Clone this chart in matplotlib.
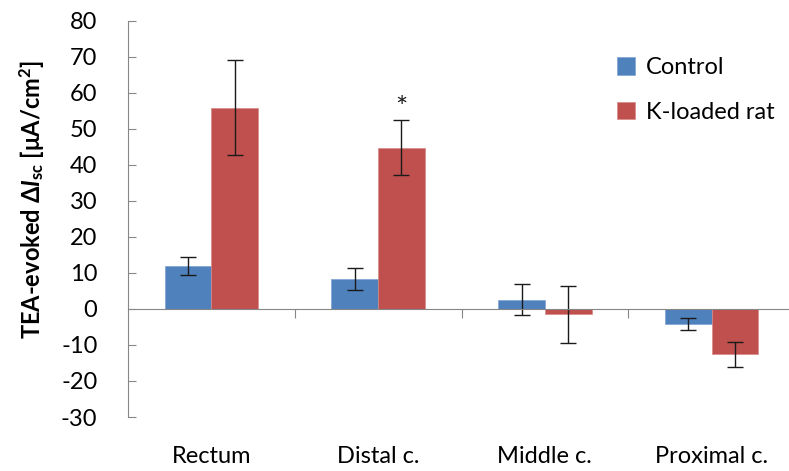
import matplotlib
matplotlib.use('Agg')
import matplotlib.pyplot as plt
import matplotlib.transforms as mtransforms
import numpy as np

matplotlib.rcParams['font.family'] = ['Lato', 'DejaVu Sans']
matplotlib.rcParams['mathtext.fontset'] = 'custom'
matplotlib.rcParams['mathtext.rm'] = 'Lato'
matplotlib.rcParams['mathtext.bf'] = 'Lato:bold'
matplotlib.rcParams['mathtext.it'] = 'Lato:italic'
matplotlib.rcParams['mathtext.bfit'] = 'Lato:bold:italic'

categories = ['Rectum', 'Distal c.', 'Middle c.', 'Proximal c.']
control = [12.0, 8.3, 2.5, -4.2]
control_err = [2.5, 3.1, 4.3, 1.6]
kloaded = [55.9, 44.8, -1.5, -12.6]
kloaded_err = [13.2, 7.5, 7.9, 3.5]
series_names = ['Control', 'K-loaded rat']
colors = ['#4F81BD', '#C0504D']
yticks = list(range(-30, 81, 10))

fs = 17

fig = plt.figure(figsize=(7.89, 4.71), dpi=100)
ax = fig.add_axes([128/789, 54/471, 667/789, 396.3/471])

x = np.arange(len(categories))
w = 0.28
ekw = dict(ecolor='#1a1a1a', elinewidth=1.0, capsize=6, capthick=1.0)
b1 = ax.bar(x - w/2, control, w, yerr=control_err, color=colors[0],
            edgecolor='#7FA3D4', linewidth=0.5, error_kw=ekw, label=series_names[0])
b2 = ax.bar(x + w/2, kloaded, w, yerr=kloaded_err, color=colors[1],
            edgecolor='#D88A88', linewidth=0.5, error_kw=ekw, label=series_names[1])

# significance mark over distal colon
ax.text(1 + w/2, kloaded[1] + kloaded_err[1] + 3.2, '*', ha='center', va='center',
        fontsize=21, color='#1a1a1a')

ax.set_xlim(-0.5, 3.5)
ax.set_ylim(-30, 80)
ax.set_yticks(yticks)
ax.set_yticklabels([str(t) for t in yticks], fontsize=fs)

for s in ['top', 'right']:
    ax.spines[s].set_visible(False)
ax.spines['left'].set_color('#868686')
ax.spines['bottom'].set_color('#868686')
ax.spines['bottom'].set_position(('data', 0))
ax.tick_params(axis='y', direction='in', length=6, color='#868686', pad=22)
ax.set_xticks([0.5, 1.5, 2.5])
ax.set_xticklabels([])
ax.tick_params(axis='x', direction='out', length=6.5, color='#868686')

trans = mtransforms.blended_transform_factory(ax.transData, ax.transAxes)
for i, c in enumerate(categories):
    ax.text(i, -0.1, c, transform=trans, ha='center', va='center', fontsize=fs)

ax.set_ylabel(r'TEA-evoked $\mathbf{\Delta}\mathbfit{I}_{\mathbf{sc}}$ [μA/cm$^{\mathbf{2}}$]',
              fontsize=fs, fontweight='bold', labelpad=4)
ax.yaxis.set_label_coords(-0.123, 0.55)

leg = ax.legend(handles=[b1, b2], loc='upper left', frameon=False, fontsize=fs,
                handlelength=0.75, handleheight=0.75, handletextpad=0.45, labelspacing=1.0)
leg.set_bbox_to_anchor((596/789, 435/471), transform=fig.transFigure)

fig.savefig('out.png', dpi=100)
